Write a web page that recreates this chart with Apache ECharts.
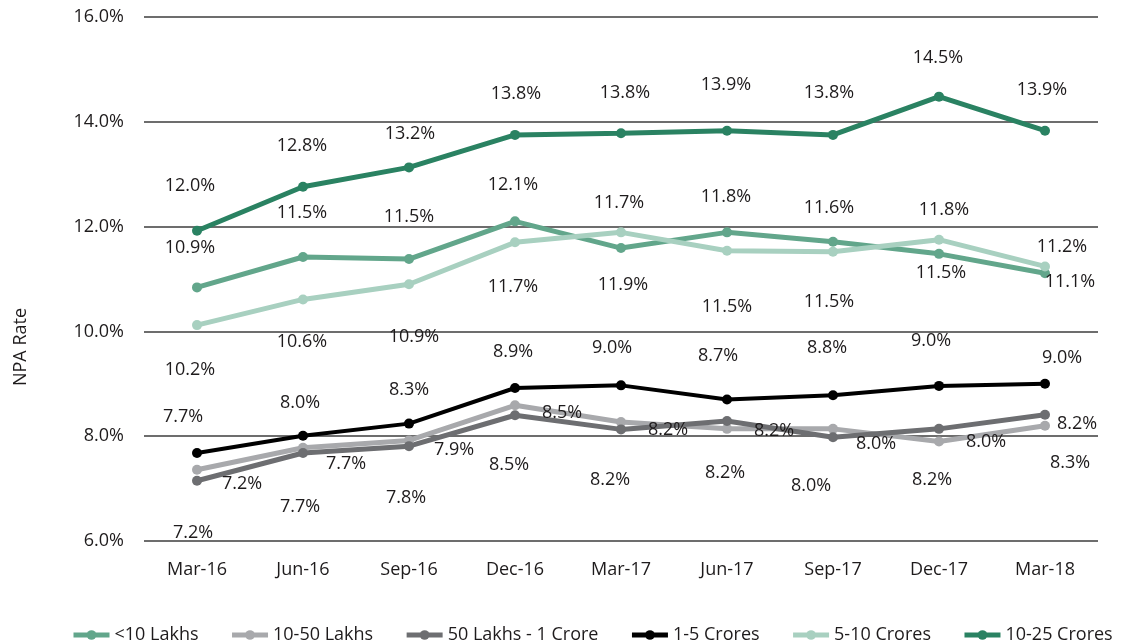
<!DOCTYPE html>
<html>
<head>
<meta charset="utf-8">
<title>NPA Rate</title>
<script src="https://cdn.jsdelivr.net/npm/echarts@6/dist/echarts.min.js"></script>
<style>
  html, body { margin: 0; padding: 0; background: #fff; }
  #chart { width: 1121px; height: 644px; }
</style>
</head>
<body>
<div id="chart"></div>
<script>
// categories (quarters)
var quarters = ['Mar-16', 'Jun-16', 'Sep-16', 'Dec-16', 'Mar-17', 'Jun-17', 'Sep-17', 'Dec-17', 'Mar-18'];
var yTicks = [6, 8, 10, 12, 14, 16];

// series values (%)
var lt10Lakhs     = [10.84, 11.42, 11.38, 12.10, 11.59, 11.89, 11.71, 11.48, 11.11];
var l10to50Lakhs  = [7.36, 7.78, 7.92, 8.59, 8.27, 8.14, 8.14, 7.90, 8.20];
var l50LakhsTo1Cr = [7.15, 7.68, 7.81, 8.40, 8.13, 8.29, 7.98, 8.14, 8.41];
var c1to5Crores   = [7.68, 8.01, 8.24, 8.92, 8.97, 8.70, 8.78, 8.96, 9.00];
var c5to10Crores  = [10.12, 10.61, 10.90, 11.70, 11.89, 11.54, 11.52, 11.75, 11.24];
var c10to25Crores = [11.92, 12.76, 13.13, 13.75, 13.78, 13.83, 13.75, 14.48, 13.83];

// data label texts as printed on the chart
var lt10LakhsText     = ['10.9%', '11.5%', '11.5%', '12.1%', '11.7%', '11.8%', '11.6%', '11.5%', '11.1%'];
var l10to50LakhsText  = ['7.2%', '7.7%', '7.9%', '8.5%', '8.2%', '8.2%', '8.0%', '8.0%', '8.2%'];
var l50LakhsTo1CrText = ['7.2%', '7.7%', '7.8%', '8.5%', '8.2%', '8.2%', '8.0%', '8.2%', '8.3%'];
var c1to5CroresText   = ['7.7%', '8.0%', '8.3%', '8.9%', '9.0%', '8.7%', '8.8%', '9.0%', '9.0%'];
var c5to10CroresText  = ['10.2%', '10.6%', '10.9%', '11.7%', '11.9%', '11.5%', '11.5%', '11.8%', '11.2%'];
var c10to25CroresText = ['12.0%', '12.8%', '13.2%', '13.8%', '13.8%', '13.9%', '13.8%', '14.5%', '13.9%'];

// label placement relative to each point (px)
var lt10LakhsOff     = [[-7,-40],[-1,-44],[0,-42],[-2,-36],[-2,-45],[-1,-35],[-4,-34],[2,19],[25,9]];
var l10to50LakhsOff  = [[45,14],[43,16],[45,9],[47,8],[47,8],[47,2],[43,15],[47,0],[32,-2]];
var l50LakhsTo1CrOff = [[-4,52],[-3,54],[-3,52],[-6,50],[-11,50],[-2,52],[-22,49],[-7,51],[25,48]];
var c1to5CroresOff   = [[-14,-36],[-3,-33],[0,-34],[-2,-36],[-9,-37],[-9,-44],[-6,-47],[-8,-45],[17,-26]];
var c5to10CroresOff  = [[-7,45],[-1,42],[5,53],[-2,45],[2,53],[0,56],[-4,50],[5,-30],[17,-20]];
var c10to25CroresOff = [[-7,-45],[-1,-41],[1,-34],[1,-41],[4,-40],[-1,-46],[-4,-42],[-1,-39],[-3,-41]];

var FONT = '"Open Sans", "Noto Sans", sans-serif';

function makeSeries(name, values, texts, offsets, color, width) {
  return {
    name: name,
    type: 'line',
    data: values.map(function (v, i) {
      return {
        value: v,
        label: { formatter: texts[i], offset: offsets[i] }
      };
    }),
    symbol: 'circle',
    symbolSize: 10,
    lineStyle: { color: color, width: width },
    itemStyle: { color: color },
    label: {
      show: true,
      position: 'inside',
      color: '#1e1b1c',
      fontSize: 18,
      fontFamily: FONT
    },
    emphasis: { disabled: true }
  };
}

var myChart = echarts.init(document.getElementById('chart'));
var option = {
  animation: false,
  backgroundColor: '#fff',
  textStyle: { fontFamily: FONT },
  grid: { left: 144, right: 23, top: 17, bottom: 103 },
  legend: {
    left: 71,
    bottom: 0,
    padding: 0,
    itemWidth: 36,
    itemHeight: 12,
    itemGap: 31,
    lineStyle: { width: 5 },
    textStyle: { fontSize: 18, color: '#1e1b1c', fontFamily: FONT },
    data: ['<10 Lakhs', '10-50 Lakhs', '50 Lakhs - 1 Crore', '1-5 Crores', '5-10 Crores', '10-25 Crores']
  },
  graphic: [{
    type: 'text',
    x: 21,
    y: 347,
    rotation: Math.PI / 2,
    style: {
      text: 'NPA Rate',
      fontSize: 18,
      fontFamily: FONT,
      fill: '#1e1b1c',
      textAlign: 'center',
      textVerticalAlign: 'middle'
    }
  }],
  xAxis: {
    type: 'category',
    data: quarters,
    axisLine: { show: false },
    axisTick: { show: false },
    axisLabel: { color: '#1e1b1c', fontSize: 18, margin: 20, fontFamily: FONT }
  },
  yAxis: {
    type: 'value',
    min: yTicks[0],
    max: yTicks[yTicks.length - 1],
    interval: 2,
    axisLine: { show: false },
    axisTick: { show: false },
    axisLabel: {
      color: '#1e1b1c', fontSize: 18, margin: 20, fontFamily: FONT,
      formatter: function (v) { return v.toFixed(1) + '%'; }
    },
    splitLine: { lineStyle: { color: '#3d3d3d', width: 1.5 } }
  },
  series: [
    makeSeries('<10 Lakhs', lt10Lakhs, lt10LakhsText, lt10LakhsOff, '#62a68b', 5),
    makeSeries('10-50 Lakhs', l10to50Lakhs, l10to50LakhsText, l10to50LakhsOff, '#a8a9ac', 5),
    makeSeries('50 Lakhs - 1 Crore', l50LakhsTo1Cr, l50LakhsTo1CrText, l50LakhsTo1CrOff, '#6d6e71', 5),
    makeSeries('1-5 Crores', c1to5Crores, c1to5CroresText, c1to5CroresOff, '#000000', 4),
    makeSeries('5-10 Crores', c5to10Crores, c5to10CroresText, c5to10CroresOff, '#a8d0c0', 5),
    makeSeries('10-25 Crores', c10to25Crores, c10to25CroresText, c10to25CroresOff, '#2a8262', 5)
  ]
};
myChart.setOption(option);
</script>
</body>
</html>
